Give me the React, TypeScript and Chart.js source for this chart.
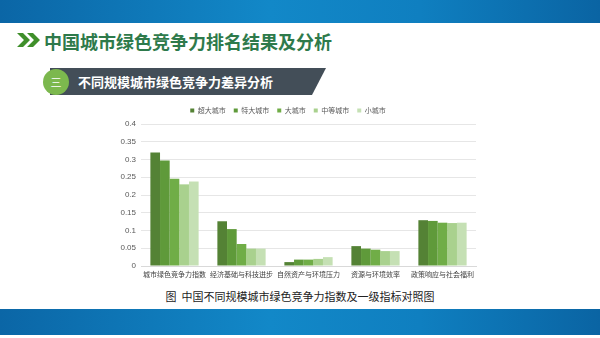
import React, { useEffect, useRef } from "react";
import { Chart, registerables } from "chart.js";

Chart.register(...registerables);

const categories = [
  "城市绿色竞争力指数",
  "经济基础与科技进步",
  "自然资产与环境压力",
  "资源与环境效率",
  "政策响应与社会福利",
];
const seriesNames = ["超大城市", "特大城市", "大城市", "中等城市", "小城市"];
const superLarge = [0.32, 0.126, 0.011, 0.056, 0.129];
const extraLarge = [0.297, 0.104, 0.018, 0.049, 0.127];
const large = [0.246, 0.062, 0.018, 0.046, 0.122];
const medium = [0.23, 0.049, 0.02, 0.042, 0.121];
const small = [0.238, 0.049, 0.025, 0.042, 0.122];
const yTicks = [0, 0.05, 0.1, 0.15, 0.2, 0.25, 0.3, 0.35, 0.4];
const colors = ["#548235", "#5f9a3a", "#70ad47", "#a9d18e", "#c5e0b4"];

export default function App() {
  const ref = useRef<HTMLCanvasElement | null>(null);
  useEffect(() => {
    if (!ref.current) return;
    const seriesData = [superLarge, extraLarge, large, medium, small];
    const chart = new Chart(ref.current, {
      type: "bar",
      data: {
        labels: categories,
        datasets: seriesNames.map((n, i) => ({
          label: n,
          data: seriesData[i],
          backgroundColor: colors[i],
          borderWidth: 0,
          categoryPercentage: 0.72,
          barPercentage: 1,
        })),
      },
      options: {
        responsive: false,
        animation: false,
        devicePixelRatio: 1,
        layout: { padding: { top: 2, right: 14, left: 0, bottom: 0 } },
        plugins: {
          legend: {
            position: "top",
            labels: {
              boxWidth: 4,
              boxHeight: 4,
              padding: 8,
              color: "#595959",
              font: { size: 7, family: "'Noto Sans CJK SC', sans-serif" },
            },
          },
          tooltip: { enabled: false },
        },
        scales: {
          x: {
            grid: { display: false, drawTicks: false },
            border: { display: true, color: "#d9d9d9" },
            ticks: {
              color: "#404040",
              padding: 4,
              maxRotation: 0,
              autoSkip: false,
              font: { size: 7, family: "'Noto Sans CJK SC', sans-serif" },
            },
            afterFit: (s: any) => {
              s.height = 14;
            },
          },
          y: {
            min: 0,
            max: 0.4,
            grid: { color: "#e6e6e6", drawTicks: false },
            border: { display: false },
            afterBuildTicks: (s: any) => {
              s.ticks = yTicks.map((v) => ({ value: v }));
            },
            afterFit: (s: any) => {
              s.width = 41;
            },
            ticks: {
              color: "#595959",
              padding: 5,
              font: { size: 8, family: "'Liberation Sans', sans-serif" },
              callback: (v: any) => String(+Number(v).toFixed(2)),
            },
          },
        },
      },
    });
    return () => chart.destroy();
  }, []);

  const band = "linear-gradient(90deg, #0b66a6 0%, #1288c8 45%, #0f7fc0 70%, #0a64a3 100%)";
  return (
    <div
      style={{
        position: "fixed",
        left: 0,
        top: 0,
        width: 600,
        height: 338,
        background: "#ffffff",
        overflow: "hidden",
        fontFamily: "'Noto Sans CJK SC', sans-serif",
      }}
    >
      <div style={{ position: "absolute", left: 0, top: 0, width: 600, height: 23, background: band }} />
      <svg style={{ position: "absolute", left: 0, top: 0 }} width={600} height={120}>
        <polygon points="17,33 23,33 30,40 23,47 17,47 24,40" fill="#3f8f2a" />
        <polygon points="27,33 33,33 40,40 33,47 27,47 34,40" fill="#3f8f2a" />
        <polygon points="50,68 326,68 312,95 50,95" fill="#434e58" />
        <circle cx={56} cy={82} r={13} fill="#7cb84e" />
      </svg>
      <div
        style={{
          position: "absolute",
          left: 44,
          top: 28,
          fontSize: 18,
          fontWeight: 700,
          color: "#2e7a4b",
          lineHeight: "26px",
          whiteSpace: "nowrap",
        }}
      >
        中国城市绿色竞争力排名结果及分析
      </div>
      <div
        style={{
          position: "absolute",
          left: 49,
          top: 73,
          width: 14,
          textAlign: "center",
          fontSize: 11,
          color: "#ffffff",
          lineHeight: "18px",
        }}
      >
        三
      </div>
      <div
        style={{
          position: "absolute",
          left: 78,
          top: 72,
          fontSize: 13,
          fontWeight: 700,
          color: "#ffffff",
          lineHeight: "20px",
          whiteSpace: "nowrap",
        }}
      >
        不同规模城市绿色竞争力差异分析
      </div>
      <canvas
        ref={ref}
        width={390}
        height={183}
        style={{ position: "absolute", left: 100, top: 97, width: 390, height: 183 }}
      />
      <div
        style={{
          position: "absolute",
          left: 0,
          top: 288,
          width: 600,
          textAlign: "center",
          fontSize: 11,
          color: "#222222",
          lineHeight: "16px",
          whiteSpace: "pre",
        }}
      >
        {"图  中国不同规模城市绿色竞争力指数及一级指标对照图"}
      </div>
      <div style={{ position: "absolute", left: 0, top: 309, width: 600, height: 26, background: band }} />
    </div>
  );
}
